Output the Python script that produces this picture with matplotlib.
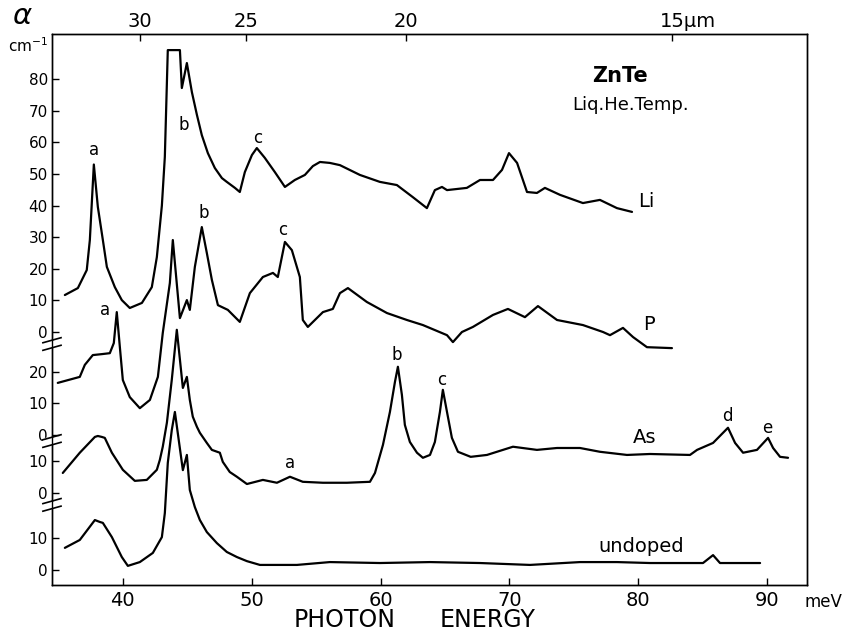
import matplotlib
matplotlib.use('Agg')
import matplotlib.pyplot as plt
import matplotlib.transforms as mtransforms

# photon energy (meV) / absorption coefficient (cm^-1)
li_e = [35.50, 36.51, 37.20, 37.44, 37.75, 38.06, 38.45, 38.76, 39.38, 39.92,
        40.54, 41.48, 42.25, 42.64, 43.03, 43.26, 43.49, 44.43, 44.58, 44.97,
        45.36, 45.75, 46.13, 46.60, 47.14, 47.69, 48.07, 48.70, 49.08, 49.47,
        50.02, 50.40, 51.02, 51.80, 52.58, 53.35, 54.13, 54.75, 55.30, 56.07,
        56.85, 58.40, 59.95, 61.27, 62.50, 63.60, 64.22, 64.77, 65.16, 66.70,
        67.72, 68.73, 69.43, 69.97, 70.60, 71.37, 72.14, 72.76, 73.93, 75.71,
        77.03, 78.35, 79.52]
li_a = [11.7, 13.9, 19.6, 29.1, 53.0, 39.6, 29.1, 20.6, 14.2, 10.1,
        7.6, 9.2, 14.2, 23.7, 40.0, 55.4, 89.2, 89.2, 77.2, 85.1,
        75.9, 68.7, 62.3, 56.6, 51.9, 48.7, 47.5, 45.6, 44.3, 50.6,
        56.0, 58.2, 55.1, 50.6, 45.9, 48.1, 49.7, 52.5, 53.8, 53.5,
        52.8, 49.7, 47.5, 46.5, 42.7, 39.2, 44.9, 45.9, 44.9, 45.6,
        48.1, 48.1, 51.3, 56.6, 53.5, 44.3, 44.0, 45.6, 43.4, 40.8,
        41.8, 39.2, 38.0]

p_e = [34.95, 36.66, 37.05, 37.67, 38.37, 38.99, 39.30, 39.53, 39.77, 40.00,
       40.54, 41.32, 42.10, 42.72, 43.10, 43.65, 43.88, 44.43, 44.97, 45.20,
       45.59, 46.13, 46.52, 46.91, 47.38, 48.15, 49.08, 49.86, 50.87, 51.65,
       52.03, 52.58, 53.12, 53.74, 53.97, 54.36, 55.53, 56.30, 56.85, 57.47,
       58.94, 60.50, 62.05, 63.29, 65.16, 65.62, 66.32, 67.17, 68.73, 69.89,
       71.21, 72.22, 73.70, 75.71, 77.27, 77.81, 78.82, 79.60, 80.68, 82.62]
p_a = [16.5, 18.4, 22.2, 25.3, 25.6, 25.9, 29.1, 38.9, 27.8, 17.4,
       12.0, 8.5, 11.1, 18.4, 32.3, 48.1, 61.7, 37.0, 42.7, 39.6,
       53.2, 65.8, 57.6, 49.1, 41.1, 39.6, 35.8, 44.9, 50.0, 51.3,
       50.0, 61.1, 58.5, 50.0, 36.4, 34.2, 38.9, 39.9, 44.9, 46.5,
       42.1, 38.6, 36.4, 34.8, 31.6, 29.4, 32.6, 34.2, 38.0, 39.9,
       37.3, 40.8, 36.4, 34.8, 32.6, 31.6, 33.9, 31.0, 27.8, 27.5]

as_e = [35.34, 36.66, 37.83, 38.06, 38.37, 38.60, 39.15, 40.00, 40.93, 41.86,
        42.64, 42.87, 43.10, 43.42, 43.80, 44.19, 44.66, 44.97, 45.20, 45.43,
        45.75, 45.98, 46.52, 46.91, 47.53, 47.76, 48.30, 48.85, 49.63, 50.87,
        51.96, 52.97, 53.97, 55.53, 57.39, 59.18, 59.57, 60.19, 60.73, 61.12,
        61.35, 61.66, 61.89, 62.28, 62.83, 63.29, 63.84, 64.22, 64.61, 64.84,
        65.16, 65.54, 66.01, 67.00, 68.26, 70.28, 72.14, 73.70, 75.48, 77.03,
        79.13, 80.92, 84.02, 84.57, 85.81, 86.97, 87.52, 88.14, 89.22, 90.08,
        90.47, 91.01, 91.63]
as_a = [6.3, 12.7, 17.7, 18.0, 17.7, 17.4, 12.7, 7.3, 3.8, 4.1,
        7.3, 10.4, 14.6, 22.2, 35.8, 51.6, 33.2, 36.7, 29.4, 24.1,
        20.9, 19.0, 15.8, 13.6, 12.7, 9.8, 6.6, 5.1, 2.8, 4.1,
        3.2, 5.1, 3.5, 3.2, 3.2, 3.5, 6.3, 15.2, 25.6, 35.1,
        39.9, 31.0, 21.5, 16.1, 12.7, 11.1, 12.0, 16.1, 25.6, 32.6,
        25.6, 17.4, 13.0, 11.4, 12.0, 14.6, 13.6, 14.2, 14.2, 13.0,
        12.0, 12.3, 12.0, 13.6, 15.8, 20.6, 15.8, 12.7, 13.6, 17.4,
        14.2, 11.4, 11.1]

un_e = [35.50, 36.66, 37.83, 38.21, 38.45, 39.15, 39.92, 40.39, 41.32, 42.33,
        43.03, 43.26, 43.49, 43.80, 44.04, 44.66, 44.97, 45.20, 45.59, 45.98,
        46.52, 47.30, 48.07, 48.85, 49.63, 50.64, 53.51, 56.07, 59.95, 63.84,
        67.72, 71.60, 75.48, 78.35, 80.92, 85.03, 85.81, 86.35, 89.46]
un_a = [7.0, 9.5, 15.8, 15.2, 14.9, 10.4, 4.1, 1.3, 2.5, 5.4,
        10.4, 18.0, 33.9, 44.3, 50.0, 31.6, 36.4, 25.3, 19.9, 15.8,
        12.0, 8.5, 5.7, 4.1, 2.8, 1.6, 1.6, 2.5, 2.2, 2.5,
        2.2, 1.6, 2.5, 2.5, 2.2, 2.2, 4.7, 2.2, 2.2]

# peak letters: (energy meV, absorption cm^-1) of each label per trace
li_peaks = [('a', 37.75, 57.6), ('b', 44.74, 65.5), ('c', 50.48, 61.4)]
p_peaks = [('a', 38.6, 39.6), ('b', 46.29, 70.3), ('c', 52.42, 64.9)]
as_peaks = [('a', 52.97, 9.5), ('b', 61.27, 43.6), ('c', 64.77, 35.7),
            ('d', 86.9, 24.3), ('e', 90.0, 20.5)]

li_ticks = [0, 10, 20, 30, 40, 50, 60, 70, 80]
p_ticks = [0, 10, 20]
as_ticks = [0, 10]
un_ticks = [0, 10]

energy_ticks = [40, 50, 60, 70, 80, 90]
wavelength_ticks = [30, 25, 20, 15]   # µm
wavelength_labels = ['30', '25', '20', '15µm']

# vertical stacking offsets (cm^-1 units)
OFF_LI, OFF_P, OFF_AS, OFF_UN = 75.3, 42.7, 24.4, 0.0

plt.rcParams['font.family'] = 'DejaVu Sans'

fig = plt.figure(figsize=(8.45, 6.34), dpi=100)
ax = fig.add_axes([0.0615, 0.0773, 0.8935, 0.8691])

lw = 1.6
for e, a, off in [(li_e, li_a, OFF_LI), (p_e, p_a, OFF_P),
                  (as_e, as_a, OFF_AS), (un_e, un_a, OFF_UN)]:
    ax.plot(e, [v + off for v in a], color='black', lw=lw,
            solid_joinstyle='round', solid_capstyle='round')

ax.set_xlim(34.5, 93.1)
ax.set_ylim(-4.75, 169.6)

# peak letters
for peaks, off in [(li_peaks, OFF_LI), (p_peaks, OFF_P), (as_peaks, OFF_AS)]:
    for lab, x, y in peaks:
        ax.text(x, y + off, lab, fontsize=12, ha='center', va='center')

# trace names
ax.text(80.0, 41.2 + OFF_LI, 'Li', fontsize=14, ha='left', va='center')
ax.text(80.4, 35.1 + OFF_P, 'P', fontsize=14, ha='left', va='center')
ax.text(79.6, 17.4 + OFF_AS, 'As', fontsize=14, ha='left', va='center')
ax.text(76.9, 7.3 + OFF_UN, 'undoped', fontsize=14, ha='left', va='center')

ax.text(78.6, 156.3, 'ZnTe', fontsize=15, fontweight='bold',
        ha='center', va='center')
ax.text(79.4, 147.2, 'Liq.He.Temp.', fontsize=13, ha='center', va='center')

# left axis: stacked tick groups
yt, yl = [], []
for ticks, off in [(li_ticks, OFF_LI), (p_ticks, OFF_P),
                   (as_ticks, OFF_AS), (un_ticks, OFF_UN)]:
    for t in ticks:
        yt.append(t + off)
        yl.append(str(t))
ax.set_yticks(yt)
ax.set_yticklabels(yl, fontsize=11)
ax.tick_params(axis='y', direction='in', length=5, width=1, pad=3)

ax.set_xticks(energy_ticks)
ax.set_xticklabels([str(t) for t in energy_ticks], fontsize=14)
ax.tick_params(axis='x', direction='in', length=5, width=1, pad=4)

for s in ax.spines.values():
    s.set_linewidth(1.0)

# axis break marks on the left spine
trans = mtransforms.blended_transform_factory(ax.transAxes, ax.transData)
for yb in [71.5, 40.8, 20.6]:
    ax.fill_between([-0.012, 0.012], yb - 0.9, yb + 0.9, color='white',
                    transform=trans, clip_on=False, zorder=4)
    for dy in (-1.2, 1.2):
        ax.plot([-0.012, 0.012], [yb + dy - 0.8, yb + dy + 0.8],
                color='black', lw=1.2, transform=trans, clip_on=False,
                zorder=5)

# top axis: wavelength in µm
ax2 = ax.twiny()
ax2.set_xlim(ax.get_xlim())
ax2.set_xticks([1239.84 / w for w in wavelength_ticks])
ax2.set_xticklabels(wavelength_labels, fontsize=14)
ax2.tick_params(axis='x', direction='in', length=5, width=1, pad=2)
# "15µm": keep the number over its tick, unit trailing to the right
shift = mtransforms.ScaledTranslation(0.16, 0, fig.dpi_scale_trans)
last = ax2.get_xticklabels()[-1]
last.set_transform(last.get_transform() + shift)
for s in ax2.spines.values():
    s.set_linewidth(1.0)

# corner labels
fig.text(0.026, 0.975, r'$\alpha$', fontsize=21, ha='center', va='center')
fig.text(0.010, 0.928, r'cm$^{-1}$', fontsize=11, ha='left', va='center')
fig.text(0.975, 0.05, 'meV', fontsize=12, ha='center', va='center')
fig.text(0.408, 0.022, 'PHOTON', fontsize=17, ha='center', va='center')
fig.text(0.577, 0.022, 'ENERGY', fontsize=17, ha='center', va='center')

fig.savefig('out.png', dpi=100)
